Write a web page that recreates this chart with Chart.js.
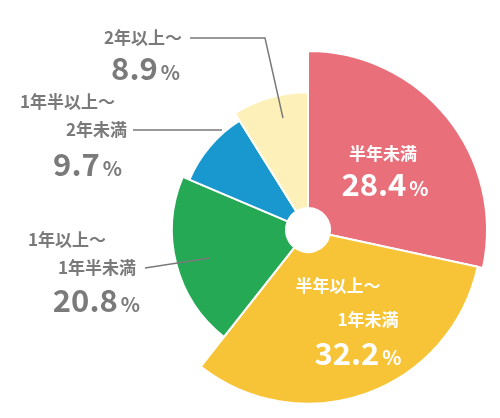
<!DOCTYPE html>
<html><head><meta charset="utf-8">
<script src="https://cdn.jsdelivr.net/npm/chart.js@4"></script>
<style>html,body{margin:0;padding:0;background:#fff}#w{width:500px;height:418px}</style>
</head><body><div id="w"><canvas id="c"></canvas></div>
<script>
const categories = ['半年未満','半年以上〜1年未満','1年以上〜1年半未満','1年半以上〜2年未満','2年以上〜'];
const values = [28.4, 32.2, 20.8, 9.7, 8.9];
const colors = ['#e9707a','#f8c437','#25a955','#1898cf','#fdf0b8'];
const radiusFactors = [1.0, 0.97, 0.76, 0.72, 0.77];

const F = '"Noto Sans CJK JP", sans-serif';
function pct(ctx, x, y, num, color, align){
  ctx.fillStyle = color;
  ctx.textBaseline = 'alphabetic';
  ctx.font = 'bold 31px ' + F;
  const w1 = ctx.measureText(num).width;
  ctx.font = 'bold 20px ' + F;
  const w2 = ctx.measureText('%').width + 3;
  let sx = align === 'right' ? x - w1 - w2 : x - (w1 + w2) / 2;
  ctx.textAlign = 'left';
  ctx.font = 'bold 31px ' + F; ctx.fillText(num, sx, y);
  ctx.font = 'bold 20px ' + F; ctx.fillText('%', sx + w1 + 3, y);
}
function txt(ctx, s, x, y, color, align){
  ctx.fillStyle = color; ctx.font = 'bold 17px ' + F;
  ctx.textAlign = align || 'center'; ctx.textBaseline = 'alphabetic';
  ctx.fillText(s, x, y);
}
const radiusPlugin = {
  id: 'radii',
  afterDatasetsUpdate(chart){
    const meta = chart.getDatasetMeta(0);
    meta.data.forEach((a, i) => { a.outerRadius = a.outerRadius * radiusFactors[i]; });
  },
  afterDraw(chart){
    const ctx = chart.ctx; const g = '#7a7a7a';
    ctx.save();
    txt(ctx, '半年未満', 383, 160, '#fff');
    pct(ctx, 385, 196, values[0].toFixed(1), '#fff');
    txt(ctx, '半年以上〜', 338, 292, '#fff');
    txt(ctx, '1年未満', 368, 326, '#fff');
    pct(ctx, 358, 365, values[1].toFixed(1), '#fff');
    txt(ctx, '2年以上〜', 182, 44, g, 'right');
    pct(ctx, 180, 80, values[4].toFixed(1), g, 'right');
    txt(ctx, '1年半以上〜', 115, 108, g, 'right');
    txt(ctx, '2年未満', 127, 136, g, 'right');
    pct(ctx, 122, 176, values[3].toFixed(1), g, 'right');
    txt(ctx, '1年以上〜', 106, 246, g, 'right');
    txt(ctx, '1年半未満', 136, 274, g, 'right');
    pct(ctx, 140, 312, values[2].toFixed(1), g, 'right');
    ctx.strokeStyle = g; ctx.lineWidth = 1.5;
    ctx.beginPath();
    ctx.moveTo(190, 38); ctx.lineTo(265, 38); ctx.lineTo(283, 118);
    ctx.moveTo(133, 130); ctx.lineTo(222, 130);
    ctx.moveTo(145, 268); ctx.lineTo(210, 258);
    ctx.stroke();
    ctx.restore();
  }
};
new Chart(document.getElementById('c'), {
  type: 'pie',
  data: { labels: categories, datasets: [{ data: values, backgroundColor: colors, borderColor: '#fff', borderWidth: 2 }] },
  options: {
    responsive: true, maintainAspectRatio: false, animation: false,
    cutout: 22,
    layout: { padding: { left: 128, right: 12, top: 50, bottom: 8 } },
    plugins: { legend: { display: false }, tooltip: { enabled: false } }
  },
  plugins: [radiusPlugin]
});
</script></body></html>
